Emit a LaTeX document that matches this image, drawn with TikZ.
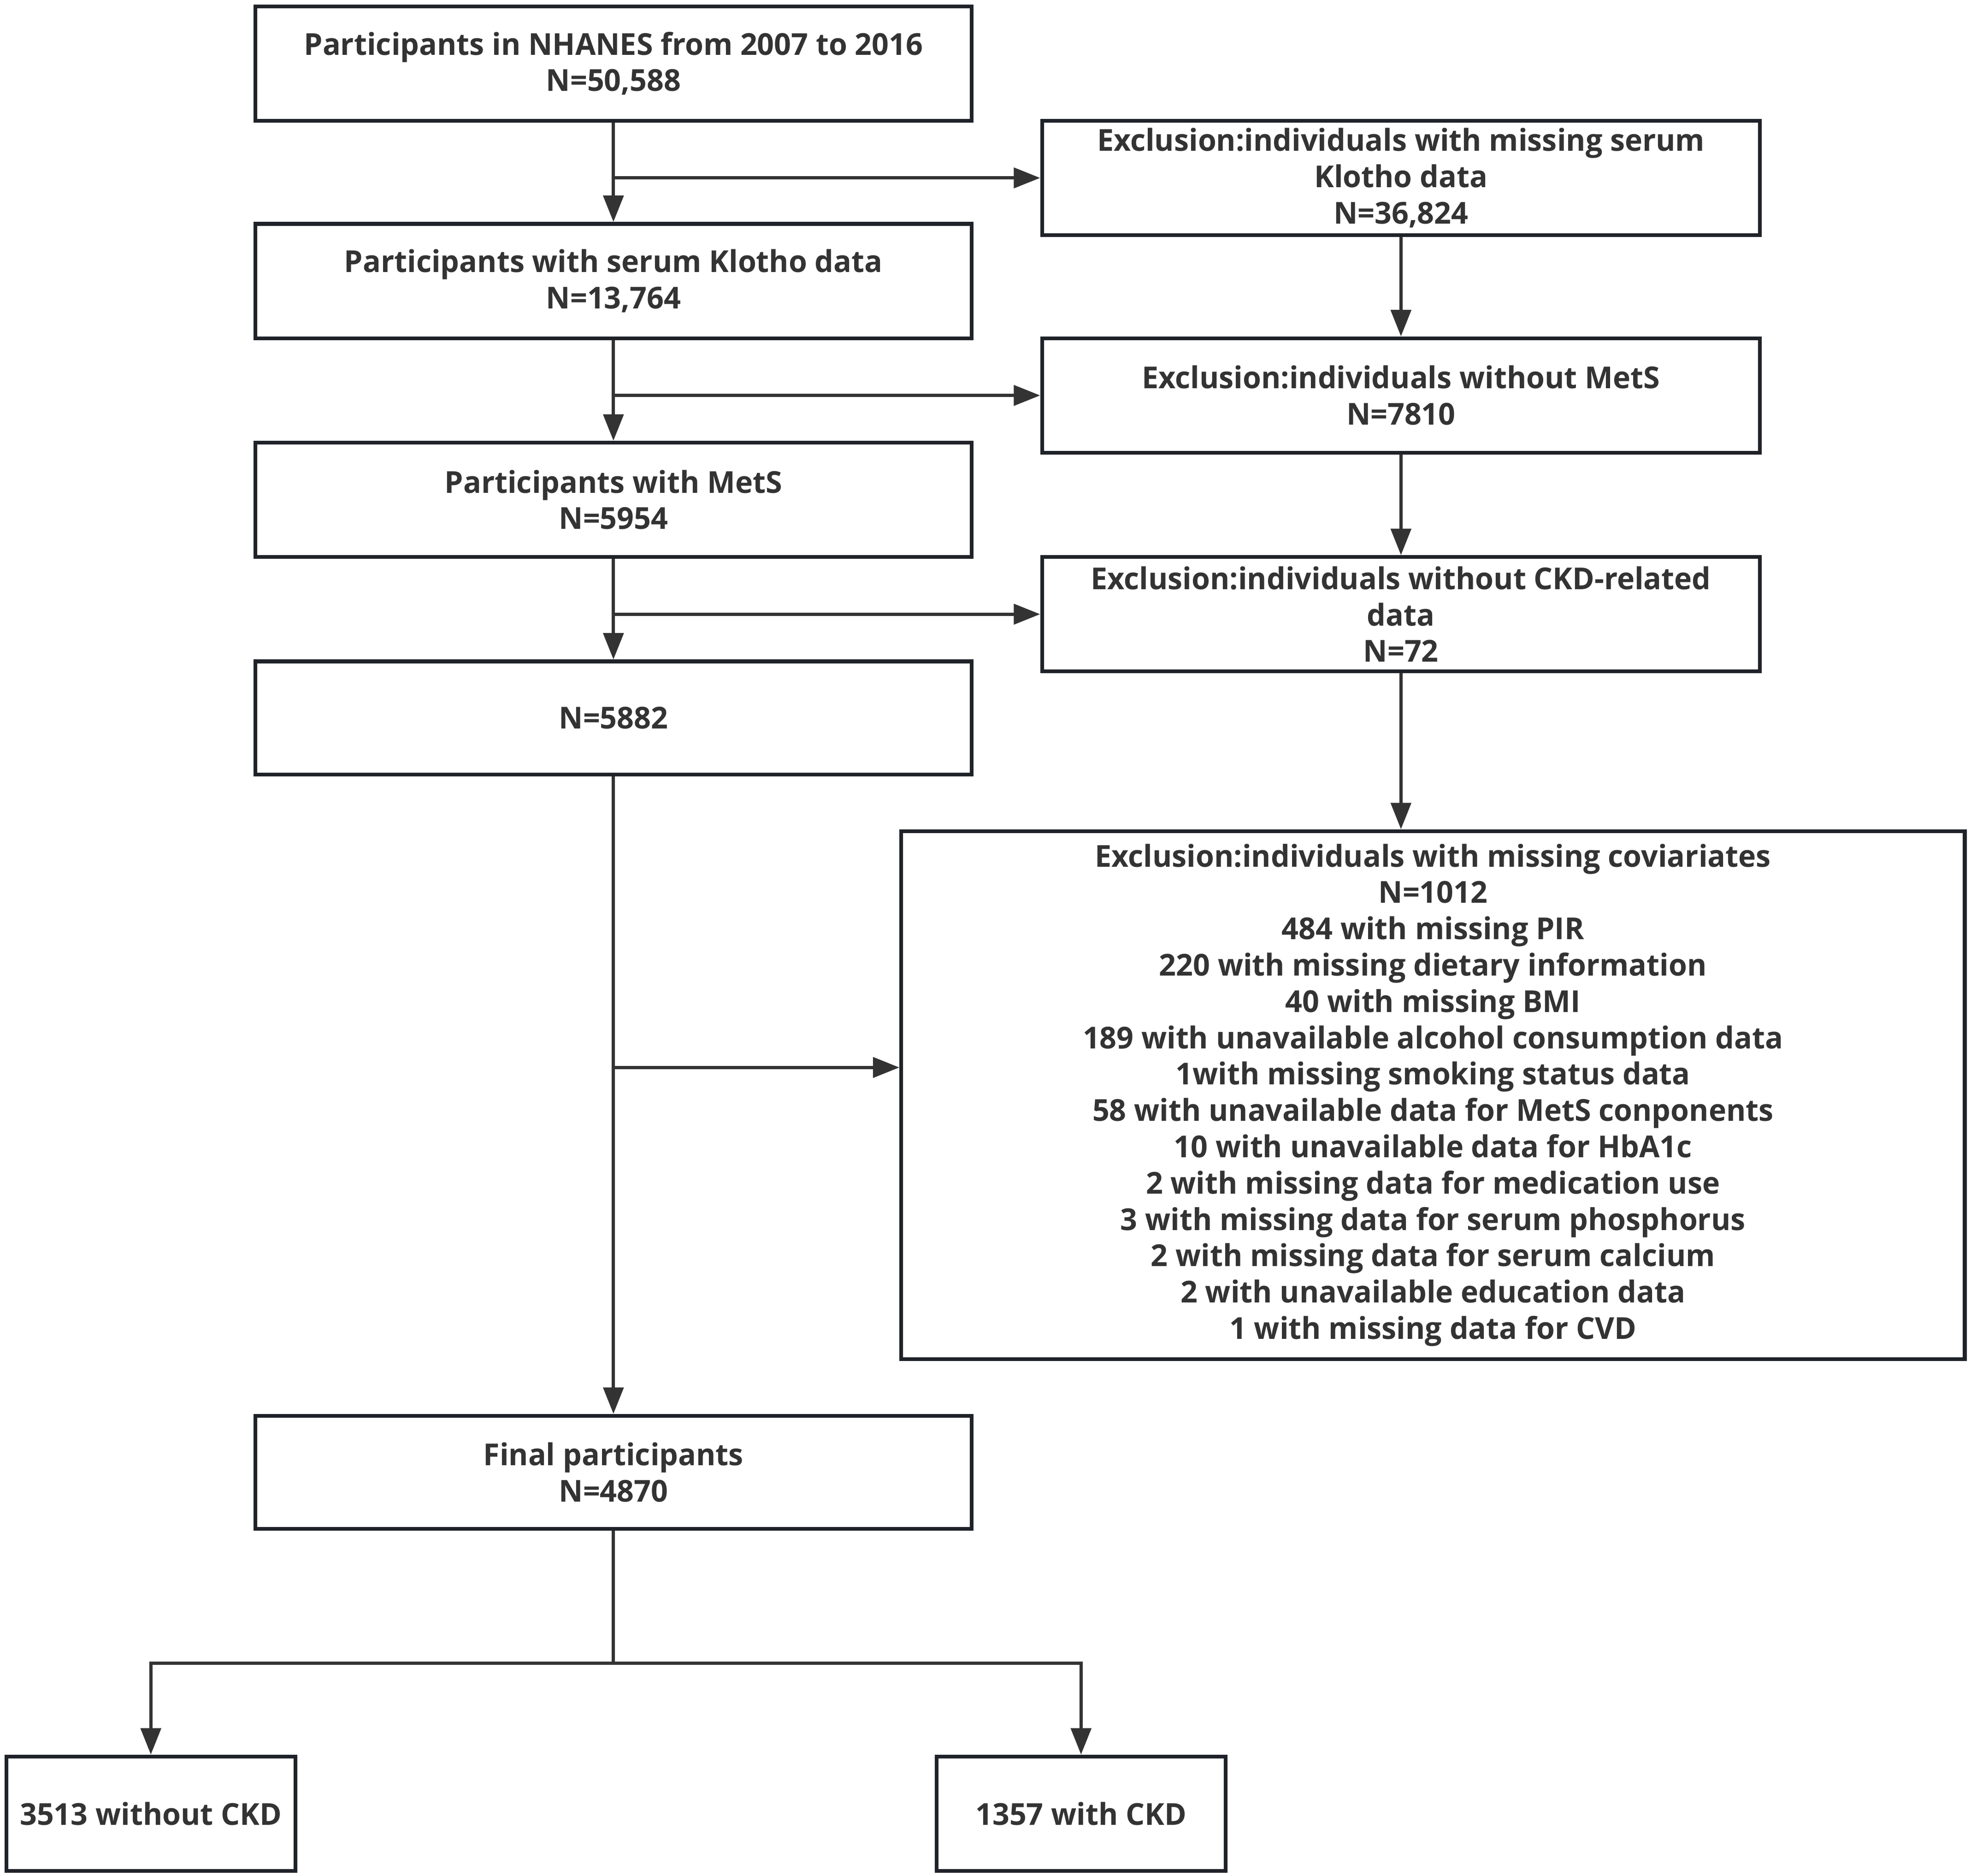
\documentclass[tikz,border=0pt]{standalone}
\usepackage{fontspec}
\setmainfont{Open Sans}[FakeStretch=0.985]
\usetikzlibrary{arrows.meta}
\definecolor{boxline}{HTML}{1F2329}
\definecolor{ink}{HTML}{333333}
\begin{document}
\begin{tikzpicture}[x=1pt,y=-1pt,
  box/.style={draw=boxline, line width=3pt, fill=white, align=center, text=ink,
    font=\bfseries\fontsize{24}{28.9}\selectfont, inner sep=0pt},
  conn/.style={draw=ink, line width=2.6pt},
  arr/.style={conn, -{Triangle[length=21pt,width=16pt]}}]
\useasboundingbox (0,0) rectangle (1568,1492);
% left column
\node[box, minimum width=570pt, minimum height=91pt] (b1) at (488,50.5) {Participants in NHANES from 2007 to 2016\\N=50,588};
\node[box, minimum width=570pt, minimum height=91pt] (b2) at (488,223.5) {Participants with serum Klotho data\\N=13,764};
\node[box, minimum width=570pt, minimum height=91pt] (b3) at (488,397.5) {Participants with MetS\\N=5954};
\node[box, minimum width=570pt, minimum height=90pt] (b4) at (488,571) {N=5882};
\node[box, minimum width=570pt, minimum height=90pt] (b5) at (488,1171) {Final participants\\N=4870};
% right column
\node[box, minimum width=571pt, minimum height=91pt] (e1) at (1114.5,141.5) {Exclusion:individuals with missing serum\\Klotho data\\N=36,824};
\node[box, minimum width=571pt, minimum height=91pt] (e2) at (1114.5,314.5) {Exclusion:individuals without MetS\\N=7810};
\node[box, minimum width=571pt, minimum height=91pt] (e3) at (1114.5,488.5) {Exclusion:individuals without CKD-related\\data\\N=72};
\node[box, minimum width=846pt, minimum height=420pt] (e4) at (1140,871) {Exclusion:individuals with missing coviariates\\N=1012\\484 with missing PIR\\220 with missing dietary information\\40 with missing BMI\\189 with unavailable alcohol consumption data\\1with missing smoking status data\\58 with unavailable data for MetS conponents\\10 with unavailable data for HbA1c\\2 with missing data for medication use\\3 with missing data for serum phosphorus\\2 with missing data for serum calcium\\2 with unavailable education data\\1 with missing data for CVD};
% bottom
\node[box, minimum width=230pt, minimum height=91pt] (l) at (120,1442.5) {3513 without CKD};
\node[box, minimum width=230pt, minimum height=91pt] (r) at (860,1442.5) {1357 with CKD};
% main vertical
\draw[arr] (b1.south) -- (b2.north);
\draw[arr] (b2.south) -- (b3.north);
\draw[arr] (b3.south) -- (b4.north);
\draw[arr] (b4.south) -- (b5.north);
% side branches
\coordinate (s1) at (488,141.5);
\coordinate (s2) at (488,314.5);
\coordinate (s3) at (488,488.5);
\coordinate (s4) at (488,849);
\draw[arr] (s1) -- (e1.west);
\draw[arr] (s2) -- (e2.west);
\draw[arr] (s3) -- (e3.west);
\draw[arr] (s4) -- (s4 -| e4.west);
% right vertical
\draw[arr] (e1.south) -- (e2.north);
\draw[arr] (e2.south) -- (e3.north);
\draw[arr] (e3.south) -- (e3.south |- e4.north);
% split
\coordinate (sp) at (488,1323);
\draw[conn] (b5.south) -- (sp);
\draw[arr] (sp) -| (l.north);
\draw[arr] (sp) -| (r.north);
\end{tikzpicture}
\end{document}
